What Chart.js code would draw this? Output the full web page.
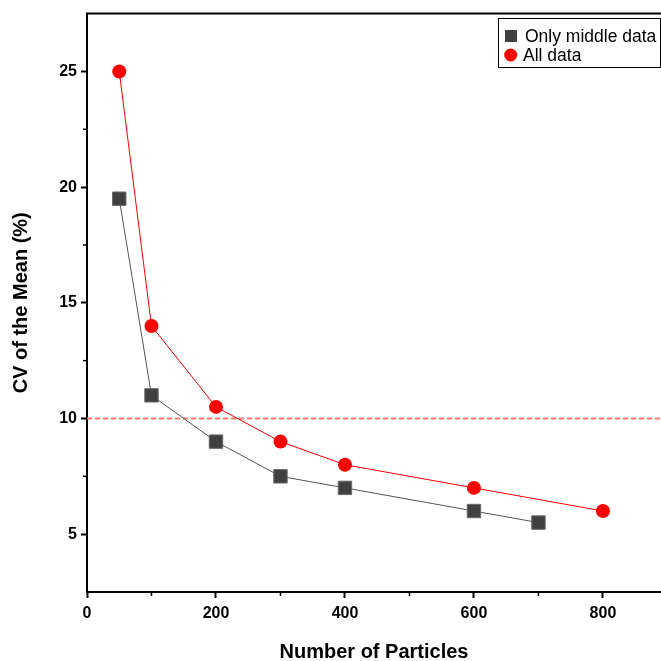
<!DOCTYPE html>
<html><head><meta charset="utf-8">
<script src="https://cdn.jsdelivr.net/npm/chart.js@4/dist/chart.umd.min.js"></script>
<style>html,body{margin:0;padding:0;background:#fff}#wrap{width:661px;height:661px}</style>
</head><body><div id="wrap"><canvas id="c" width="661" height="661"></canvas></div>
<script>
const particlesMiddle = [50, 100, 200, 300, 400, 600, 700];
const cvMiddle = [19.5, 11, 9, 7.5, 7, 6, 5.5];
const particlesAll = [50, 100, 200, 300, 400, 600, 800];
const cvAll = [25, 14, 10.5, 9, 8, 7, 6];
const thresholdCV = 10;
const xRange = [0, 890];
const yRange = [2.5, 27.5];
const xTickValues = [0, 200, 400, 600, 800];
const yTickValues = [5, 10, 15, 20, 25];
const seriesNames = ['Only middle data', 'All data'];

const toPts = (xs, ys) => xs.map((x, i) => ({x: x, y: ys[i]}));
const FONT = '"Liberation Sans", Arial, sans-serif';

const extras = {
  id: 'extras',
  afterLayout(chart) {
    const a = chart.chartArea, x = chart.scales.x;
    a.right = chart.width; a.width = a.right - a.left;
    x.right = chart.width; x.width = x.right - x.left;
    x.configure();
  },
  afterDraw(chart) {
    const ctx = chart.ctx, a = chart.chartArea;
    const xs = chart.scales.x, ys = chart.scales.y;
    ctx.save();
    ctx.strokeStyle = '#000'; ctx.lineWidth = 2;
    ctx.beginPath(); ctx.moveTo(a.left - 1, a.top); ctx.lineTo(chart.width, a.top); ctx.stroke();
    ctx.lineWidth = 1.5;
    for (let v = 100; v < xRange[1]; v += 200) {
      const p = xs.getPixelForValue(v);
      ctx.beginPath(); ctx.moveTo(p, a.bottom); ctx.lineTo(p, a.bottom + 4); ctx.stroke();
    }
    for (let v = 7.5; v < yRange[1]; v += 5) {
      const p = ys.getPixelForValue(v);
      ctx.beginPath(); ctx.moveTo(a.left, p); ctx.lineTo(a.left - 4, p); ctx.stroke();
    }
    const bx = 498, by = 18, bw = 162, bh = 49;
    ctx.fillStyle = '#fff'; ctx.fillRect(bx, by, bw, bh);
    ctx.strokeStyle = '#000'; ctx.lineWidth = 1;
    ctx.strokeRect(bx + 0.5, by + 0.5, bw, bh);
    ctx.font = '17.5px ' + FONT;
    ctx.textBaseline = 'middle'; ctx.textAlign = 'left';
    const ds = chart.data.datasets;
    ctx.fillStyle = ds[0].pointBackgroundColor;
    ctx.fillRect(505, 30, 12, 12);
    ctx.fillStyle = '#000';
    ctx.fillText(ds[0].label, 525, 37);
    ctx.fillStyle = ds[1].pointBackgroundColor;
    ctx.beginPath(); ctx.arc(510.7, 55, 6.5, 0, Math.PI * 2); ctx.fill();
    ctx.fillStyle = '#000';
    ctx.fillText(ds[1].label, 523, 56);
    ctx.restore();
  }
};

new Chart(document.getElementById('c'), {
  type: 'scatter',
  data: {
    datasets: [
      {
        label: seriesNames[0],
        data: toPts(particlesMiddle, cvMiddle),
        showLine: true,
        borderColor: '#555555',
        borderWidth: 1,
        pointStyle: 'rect',
        pointRadius: 9.5,
        pointHoverRadius: 9.5,
        pointBackgroundColor: '#404040',
        pointBorderColor: '#6a6a6a',
        pointBorderWidth: 1,
        order: 2
      },
      {
        label: seriesNames[1],
        data: toPts(particlesAll, cvAll),
        showLine: true,
        borderColor: '#ff0000',
        borderWidth: 1,
        pointStyle: 'circle',
        pointRadius: 7,
        pointHoverRadius: 7,
        pointBackgroundColor: '#ff0000',
        pointBorderColor: '#ff0000',
        pointBorderWidth: 0,
        order: 1
      },
      {
        label: 'threshold',
        data: [{x: xRange[0], y: thresholdCV}, {x: xRange[1], y: thresholdCV}],
        showLine: true,
        borderColor: '#ff7878',
        borderWidth: 2,
        borderDash: [5, 3],
        pointRadius: 0,
        order: 3
      }
    ]
  },
  options: {
    responsive: false,
    animation: false,
    layout: {padding: {top: 13, right: 0, left: 0, bottom: 0}},
    plugins: {legend: {display: false}, tooltip: {enabled: false}},
    scales: {
      x: {
        type: 'linear', min: xRange[0], max: xRange[1],
        afterFit(s) { s.height = 69; },
        afterBuildTicks(s) { s.ticks = xTickValues.map(v => ({value: v})); },
        border: {display: true, color: '#000', width: 2},
        grid: {display: true, drawOnChartArea: false, drawTicks: true, tickLength: 6, tickColor: '#000', tickWidth: 2},
        ticks: {
          color: '#000', padding: 6, maxRotation: 0,
          font: {family: FONT, size: 16, weight: 'bold'}
        },
        title: {display: true, text: 'Number of Particles', color: '#000',
          font: {family: FONT, size: 20, weight: 'bold'}, padding: {top: 4, bottom: -3}}
      },
      y: {
        type: 'linear', min: yRange[0], max: yRange[1],
        afterFit(s) { s.width = 87; },
        border: {display: true, color: '#000', width: 2},
        grid: {display: true, drawOnChartArea: false, drawTicks: true, tickLength: 6, tickColor: '#000', tickWidth: 2},
        afterBuildTicks(s) { s.ticks = yTickValues.map(v => ({value: v})); },
        ticks: {
          color: '#000', padding: 4,
          font: {family: FONT, size: 16, weight: 'bold'}
        },
        title: {display: true, text: 'CV of the Mean (%)', color: '#000',
          font: {family: FONT, size: 20, weight: 'bold'}, padding: {top: 9, bottom: 4}}
      }
    }
  },
  plugins: [extras]
});
</script>
</body></html>
